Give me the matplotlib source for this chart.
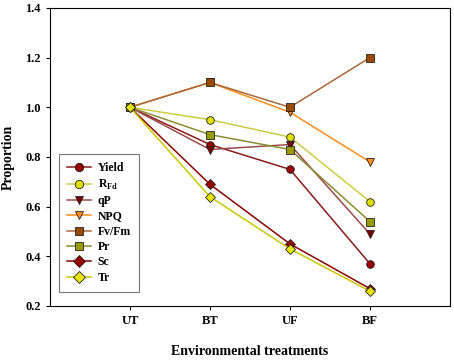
import matplotlib.pyplot as plt

plt.rcParams['font.family'] = ['Liberation Serif', 'DejaVu Serif']
plt.rcParams['font.weight'] = 'bold'
plt.rcParams['mathtext.fontset'] = 'custom'
plt.rcParams['mathtext.rm'] = 'Liberation Serif:bold'
plt.rcParams['mathtext.bf'] = 'Liberation Serif:bold'

treatments = ["UT", "BT", "UF", "BF"]
x_pos = [1, 2, 3, 4]

yield_vals = [1.0, 0.85, 0.75, 0.37]
rfd_vals = [1.0, 0.95, 0.88, 0.62]
qp_vals = [1.0, 0.83, 0.85, 0.49]
npq_vals = [1.0, 1.10, 0.98, 0.78]
fvfm_vals = [1.0, 1.10, 1.00, 1.20]
pr_vals = [1.0, 0.89, 0.83, 0.54]
sc_vals = [1.0, 0.69, 0.45, 0.27]
tr_vals = [1.0, 0.64, 0.43, 0.26]

series = [
    ("Yield", yield_vals, "o", "#8b1a1a", "#990000"),
    ("R$_{\\mathbf{Fd}}$", rfd_vals, "o", "#cccc44", "#e0e000"),
    ("qP", qp_vals, "v", "#9c4a4a", "#7a0000"),
    ("NPQ", npq_vals, "v", "#ff8c1a", "#ff8c1a"),
    ("Fv/Fm", fvfm_vals, "s", "#a8683a", "#994c00"),
    ("Pr", pr_vals, "s", "#8c8c30", "#999900"),
    ("Sc", sc_vals, "D", "#8b0000", "#990000"),
    ("Tr", tr_vals, "D", "#c8c800", "#e6e600"),
]

fig = plt.figure(figsize=(4.54, 3.6), dpi=100)
ax = fig.add_axes([0.110, 0.15, 0.881, 0.828])

for name, vals, mk, lc, fc in series:
    ax.plot(x_pos, vals, color=lc, lw=1.1, marker=mk, markersize=5.5,
            markerfacecolor=fc, markeredgecolor="#222222", markeredgewidth=0.6,
            label=name)

ax.set_xlim(0, 5)
ax.set_ylim(0.2, 1.4)
ax.set_xticks(x_pos)
ax.set_xticklabels(treatments)
ax.set_yticks([0.2, 0.4, 0.6, 0.8, 1.0, 1.2, 1.4])
ax.tick_params(labelsize=9, direction="out", length=3, width=0.8, top=False, right=False)
for lab in ax.get_xticklabels() + ax.get_yticklabels():
    lab.set_fontweight("bold")
for sp in ax.spines.values():
    sp.set_linewidth(0.8)

ax.set_xlabel("Environmental treatments", fontsize=10, fontweight="bold", labelpad=13)
ax.set_ylabel("Proportion", fontsize=10, fontweight="bold", labelpad=8)

leg = ax.legend(loc="lower left", bbox_to_anchor=(0.0225, 0.047), borderaxespad=0,
                fontsize=8.5, frameon=True, fancybox=False, edgecolor="#555555",
                handlelength=2.0, handletextpad=0.6, labelspacing=0.28,
                borderpad=0.7, markerscale=1.1)
leg.get_frame().set_linewidth(0.8)
for t in leg.get_texts():
    t.set_fontweight("bold")

fig.savefig("out.png", dpi=100)
